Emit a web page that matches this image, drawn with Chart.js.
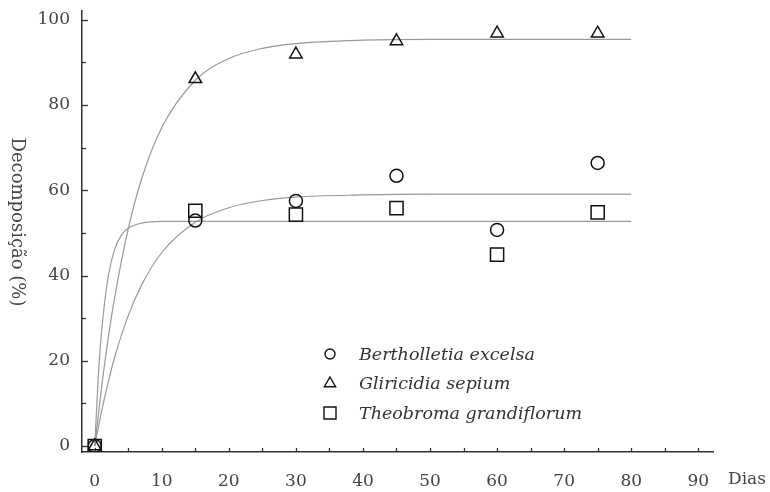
<!DOCTYPE html>
<html>
<head>
<meta charset="utf-8">
<script src="https://cdn.jsdelivr.net/npm/chart.js@4/dist/chart.umd.min.js"></script>
<style>
  body { margin: 0; background: #fff; }
</style>
</head>
<body>
<canvas id="grafico" width="770" height="492"></canvas>
<script>
// dados
var dias = [0, 15, 30, 45, 60, 75];
var bertholletia = [0, 52.9, 57.5, 63.4, 50.7, 66.4];
var gliricidia = [0, 86.1, 91.9, 95.0, 96.8, 96.8];
var theobroma = [0, 55.2, 54.3, 55.8, 44.9, 54.8];

// curvas ajustadas
var curvaDiasB = [0, 1, 2, 3, 5, 7, 10, 15, 20, 25, 30, 40, 50, 60, 70, 80];
var curvaB = [0, 8.0, 14.9, 21.0, 30.6, 37.8, 45.4, 52.5, 55.9, 57.6, 58.4, 58.9, 59.1, 59.1, 59.1, 59.1];
var curvaDiasG = [0, 1, 2, 3, 5, 7, 10, 15, 20, 25, 30, 40, 50, 60, 70, 80];
var curvaG = [0, 13.5, 25.2, 35.1, 51.0, 62.7, 74.7, 85.8, 90.9, 93.3, 94.4, 95.2, 95.4, 95.4, 95.4, 95.4];
var curvaDiasT = [0, 0.5, 1, 2, 3, 4, 5, 7, 10, 20, 40, 60, 80];
var curvaT = [0, 15.5, 26.5, 39.7, 46.3, 49.5, 51.1, 52.3, 52.7, 52.7, 52.7, 52.7, 52.7];

var especies = ['Bertholletia excelsa', 'Gliricidia sepium', 'Theobroma grandiflorum'];
var xTicks = [0, 10, 20, 30, 40, 50, 60, 70, 80, 90];
var yTicks = [0, 20, 40, 60, 80, 100];

function pares(xs, ys) {
  return xs.map(function (x, i) { return { x: x, y: ys[i] }; });
}

var fonte = '"DejaVu Serif", serif';
var corTexto = '#444';

function desenhaMarca(ctx, tipo, x, y, r) {
  ctx.beginPath();
  if (tipo == 'circle') {
    ctx.arc(x, y, r, 0, Math.PI * 2);
  } else if (tipo == 'triangle') {
    ctx.moveTo(x, y - r);
    ctx.lineTo(x + r * 0.866, y + r * 0.5);
    ctx.lineTo(x - r * 0.866, y + r * 0.5);
    ctx.closePath();
  } else {
    ctx.rect(x - r, y - r, 2 * r, 2 * r);
  }
  ctx.stroke();
}

var extras = {
  id: 'extras',
  afterDraw: function (chart) {
    var ctx = chart.ctx;
    var sx = chart.scales.x, sy = chart.scales.y;
    var area = chart.chartArea;
    ctx.save();
    ctx.strokeStyle = '#333';
    ctx.lineWidth = 1.3;
    // marcas do eixo x
    for (var v = 0; v <= 90; v += 5) {
      var px = Math.round(sx.getPixelForValue(v)) + 0.5;
      ctx.beginPath();
      ctx.moveTo(px, area.bottom);
      ctx.lineTo(px, area.bottom - 4);
      ctx.stroke();
    }
    // marcas do eixo y
    for (var w = 0; w <= 100; w += 10) {
      var py = Math.round(sy.getPixelForValue(w)) + 0.5;
      ctx.beginPath();
      ctx.moveTo(area.left, py);
      ctx.lineTo(area.left + (w % 20 == 0 ? 6 : 4), py);
      ctx.stroke();
    }
    // título do eixo y
    ctx.fillStyle = corTexto;
    ctx.font = '18px ' + fonte;
    ctx.textAlign = 'center';
    ctx.textBaseline = 'middle';
    ctx.translate(17, 222);
    ctx.rotate(Math.PI / 2);
    ctx.fillText('Decomposição (%)', 0, 0);
    ctx.restore();

    ctx.save();
    ctx.fillStyle = corTexto;
    ctx.font = '17px ' + fonte;
    ctx.textAlign = 'left';
    ctx.textBaseline = 'middle';
    ctx.fillText('Dias', 728, 480);

    // legenda
    var tipos = ['circle', 'triangle', 'rect'];
    var raios = [5, 6.5, 6];
    ctx.font = 'italic 17.5px ' + fonte;
    ctx.strokeStyle = '#111';
    ctx.lineWidth = 1.4;
    for (var i = 0; i < especies.length; i++) {
      var ly = 354 + i * 29.5;
      desenhaMarca(ctx, tipos[i], 330, ly, raios[i]);
      ctx.fillStyle = '#333';
      ctx.fillText(especies[i], 359, ly + 1);
    }
    ctx.restore();
  }
};

var pontos = {
  showLine: false,
  borderColor: '#111',
  backgroundColor: 'rgba(0,0,0,0)',
  borderWidth: 1.5,
  order: 0
};
var curva = {
  showLine: true,
  borderColor: '#999',
  borderWidth: 1.2,
  pointRadius: 0,
  cubicInterpolationMode: 'monotone',
  order: 1
};

new Chart(document.getElementById('grafico'), {
  type: 'scatter',
  data: {
    datasets: [
      Object.assign({ label: especies[0], data: pares(dias, bertholletia), pointStyle: 'circle', pointRadius: 6.5 }, pontos),
      Object.assign({ label: especies[1], data: pares(dias, gliricidia), pointStyle: 'triangle', pointRadius: 7.2 }, pontos),
      Object.assign({ label: especies[2], data: pares(dias, theobroma), pointStyle: 'rect', pointRadius: 9.3 }, pontos),
      Object.assign({ label: 'ajuste B', data: pares(curvaDiasB, curvaB) }, curva),
      Object.assign({ label: 'ajuste G', data: pares(curvaDiasG, curvaG) }, curva),
      Object.assign({ label: 'ajuste T', data: pares(curvaDiasT, curvaT) }, curva)
    ]
  },
  options: {
    responsive: false,
    animation: false,
    layout: { padding: { top: 0, right: 57, left: 0, bottom: 0 } },
    plugins: { legend: { display: false }, tooltip: { enabled: false } },
    scales: {
      x: {
        type: 'linear',
        min: -1.9,
        max: 92.2,
        grid: { display: false },
        border: { display: true, color: '#333', width: 1.5 },
        afterBuildTicks: function (s) { s.ticks = xTicks.map(function (v) { return { value: v }; }); },
        afterFit: function (s) { s.height = 40; s.paddingLeft = 0; s.paddingRight = 0; },
        ticks: { color: corTexto, font: { family: fonte, size: 17 }, padding: 11, maxRotation: 0 }
      },
      y: {
        type: 'linear',
        min: -1.4,
        max: 102.1,
        grid: { display: false },
        border: { display: true, color: '#333', width: 1.5 },
        afterBuildTicks: function (s) { s.ticks = yTicks.map(function (v) { return { value: v }; }); },
        afterFit: function (s) { s.width = 82; s.paddingTop = 0; s.paddingBottom = 0; },
        ticks: { color: corTexto, font: { family: fonte, size: 17 }, padding: 4 }
      }
    }
  },
  plugins: [extras]
});
</script>
</body>
</html>
